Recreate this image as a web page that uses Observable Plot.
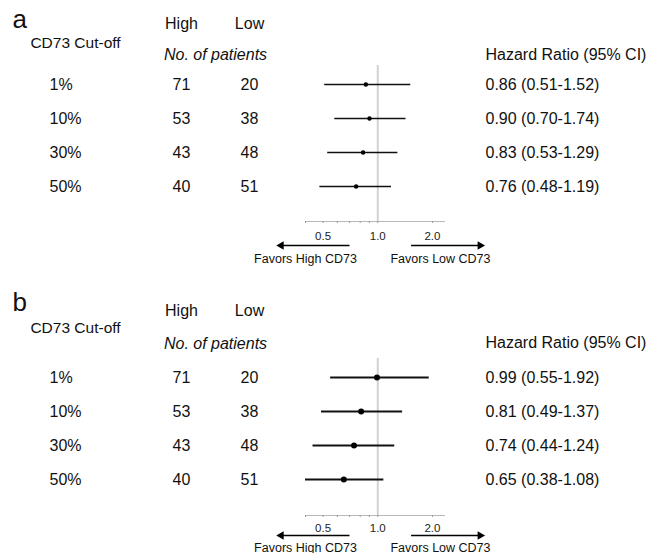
<!DOCTYPE html>
<html>
<head>
<meta charset="utf-8">
<script src="https://cdn.jsdelivr.net/npm/d3@7"></script>
<script src="https://cdn.jsdelivr.net/npm/@observablehq/plot@0.6"></script>
<style>
  html, body { margin: 0; padding: 0; background: #fff; }
  #chart { width: 649px; height: 553px; overflow: hidden; }
  #chart svg { display: block; }
</style>
</head>
<body>
<div id="chart"></div>
<script>
// ---- data ----
const cutoffs = ["1%", "10%", "30%", "50%"];
const highN = [71, 53, 43, 40];
const lowN = [20, 38, 48, 51];

// panel a (as drawn)
const hrA = [0.86, 0.90, 0.83, 0.76];
const loA = [0.51, 0.58, 0.53, 0.48];
const hiA = [1.52, 1.43, 1.29, 1.19];
const labelA = ["0.86 (0.51-1.52)", "0.90 (0.70-1.74)", "0.83 (0.53-1.29)", "0.76 (0.48-1.19)"];

// panel b
const hrB = [0.99, 0.81, 0.74, 0.65];
const loB = [0.55, 0.49, 0.44, 0.38];
const hiB = [1.92, 1.37, 1.24, 1.08];
const labelB = ["0.99 (0.55-1.92)", "0.81 (0.49-1.37)", "0.74 (0.44-1.24)", "0.65 (0.38-1.08)"];

const axisTicks = [0.4, 0.5, 0.6, 0.7, 0.8, 0.9, 1, 2];
const tickLabels = {0.5: "0.5", 1: "1.0", 2: "2.0"};
const favorArrows = [
  {label: "Favors High CD73", tail: 0.703, tip: 0.294},
  {label: "Favors Low CD73", tail: 1.535, tip: 3.66}
];

const FONT = "Arial, 'Liberation Sans', Helvetica, sans-serif";

function panel(letter, hr, lo, hi, labels, cfg) {
  const rows = cutoffs.map((c, i) => ({cutoff: c, high: highN[i], low: lowN[i], hr: hr[i], lo: lo[i], hi: hi[i], label: labels[i]}));
  const last = cutoffs[cutoffs.length - 1];
  const F = 16;
  const hdr = (t, anchor, dx, dy, extra = {}) =>
    Plot.text([t], {frameAnchor: anchor, dx, dy, lineAnchor: "middle", textAnchor: "middle", fontSize: F, fill: "#111", ...extra});
  return Plot.plot({
    width: 649,
    height: cfg.height,
    marginTop: cfg.mt,
    marginBottom: cfg.mb,
    marginLeft: 305,
    marginRight: 205,
    style: {fontFamily: FONT, color: "#111", background: "#fff", overflow: "visible"},
    x: {type: "log", domain: [0.4, 2.33]},
    y: {type: "point", domain: cutoffs, padding: 0, insetTop: cfg.it, insetBottom: cfg.ib, axis: null},
    marks: [
      Plot.ruleX([1], {stroke: "#d2d2d2", strokeWidth: 2}),
      Plot.frame({anchor: "bottom", stroke: "#b8b8b8"}),
      Plot.axisX({
        ticks: axisTicks, tickSize: 2, tickPadding: cfg.tp, label: null,
        tickFormat: d => tickLabels[d] ?? "", stroke: "#999", fill: "#222", fontSize: 11.5
      }),
      Plot.ruleY(rows, {y: "cutoff", x1: "lo", x2: "hi", stroke: "#111", strokeWidth: cfg.sw, clip: true}),
      Plot.dot(rows, {x: "hr", y: "cutoff", r: cfg.r, fill: "#000"}),
      // row texts
      Plot.text(rows, {y: "cutoff", text: "cutoff", frameAnchor: "left", dx: -256, textAnchor: "start", fontSize: F, fill: "#111"}),
      Plot.text(rows, {y: "cutoff", text: "high", frameAnchor: "left", dx: -124, textAnchor: "middle", fontSize: F, fill: "#111"}),
      Plot.text(rows, {y: "cutoff", text: "low", frameAnchor: "left", dx: -56, textAnchor: "middle", fontSize: F, fill: "#111"}),
      Plot.text(rows, {y: "cutoff", text: "label", frameAnchor: "right", dx: 41, textAnchor: "start", fontSize: F, fill: "#111"}),
      // headers
      hdr(letter, "top-left", -293, cfg.letterDy, {textAnchor: "start", fontSize: 26}),
      hdr("High", "top-left", -124, cfg.highDy),
      hdr("Low", "top-left", -56, cfg.highDy),
      hdr("CD73 Cut-off", "top-left", -230, cfg.cutDy, {fontSize: 15.5}),
      hdr("No. of patients", "top-left", -90, cfg.patDy, {fontStyle: "italic"}),
      hdr("Hazard Ratio (95% CI)", "top-right", 41, cfg.hrDy, {textAnchor: "start"}),
      // favors arrows
      Plot.ruleY(favorArrows, {y: () => last, x1: "tail", x2: "tip", dy: cfg.ady, stroke: "#000", strokeWidth: 1.5}),
      Plot.dot(favorArrows, {x: "tip", y: () => last, dy: cfg.ady, symbol: "triangle", r: 3.2, fill: "#000",
        rotate: d => (d.tip < 1 ? -90 : 90)}),
      Plot.text([favorArrows[0].label], {frameAnchor: "bottom-left", dx: 0, dy: cfg.fdy, lineAnchor: "middle", textAnchor: "middle", fontSize: 12.5, fill: "#111"}),
      Plot.text([favorArrows[1].label], {frameAnchor: "bottom-right", dx: -4, dy: cfg.fdy, lineAnchor: "middle", textAnchor: "middle", fontSize: 12.5, fill: "#111"})
    ]
  });
}

const chart = document.getElementById("chart");
chart.append(panel("a", hrA, loA, hiA, labelA, {
  height: 270, mt: 65, mb: 49, it: 18, ib: 35, tp: 8, ady: 59, fdy: 37, sw: 1.6, r: 2.2,
  letterDy: -46, highDy: -42, cutDy: -22, patDy: -11, hrDy: -11
}));
chart.append(panel("b", hrB, loB, hiB, labelB, {
  height: 283, mt: 88, mb: 38, it: 19, ib: 36, tp: 6, ady: 56, fdy: 32, sw: 2, r: 3,
  letterDy: -56, highDy: -48, cutDy: -30, patDy: -15, hrDy: -16
}));
</script>
</body>
</html>
